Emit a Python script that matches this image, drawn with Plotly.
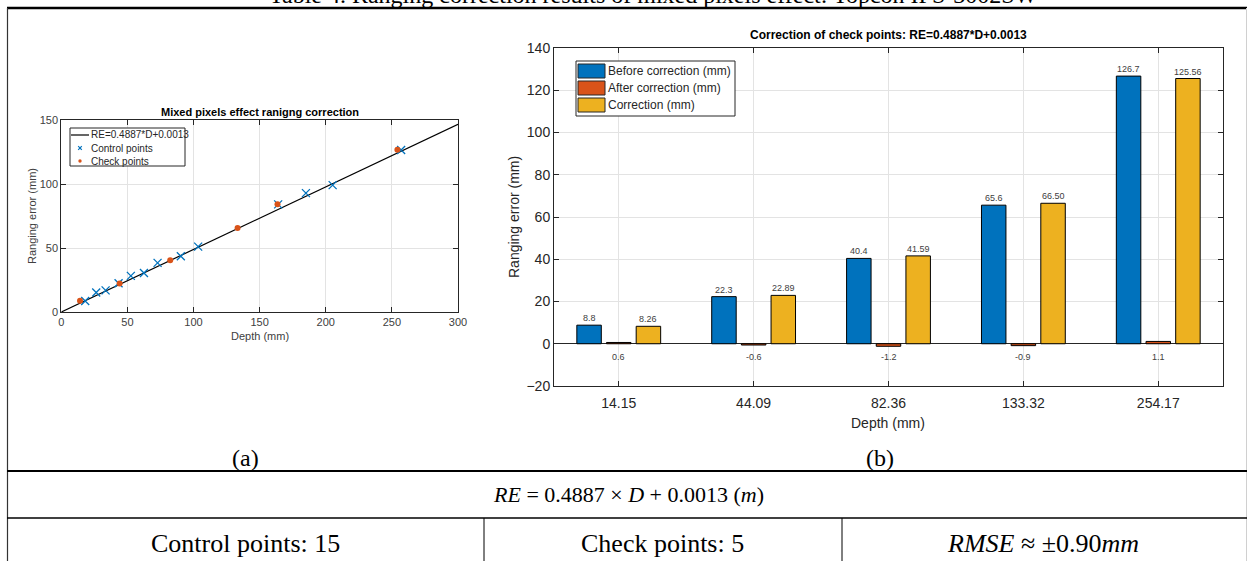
import plotly.graph_objects as go

W, H = 1247, 561

# ---------------- data ----------------
fit_slope = 0.4887
fit_intercept = 0.0013
fit_depth_range = [0, 300]

control_depth = [18.1, 26.4, 33.5, 43.3, 52.6, 62.5, 72.8, 90.4, 103.5, 164.0, 185.0, 205.2, 257.0]
control_err = [8.6, 15.3, 16.9, 22.4, 28.2, 30.5, 38.4, 43.6, 51.1, 84.1, 92.9, 99.1, 126.6]

check_depth = [14.15, 44.09, 82.36, 133.32, 163.5, 254.17]
check_err = [8.8, 22.3, 40.4, 65.6, 84.2, 126.7]

depth_labels = ["14.15", "44.09", "82.36", "133.32", "254.17"]
before_corr = [8.8, 22.3, 40.4, 65.6, 126.7]
after_corr = [0.6, -0.6, -1.2, -0.9, 1.1]
correction = [8.26, 22.89, 41.59, 66.50, 125.56]
before_txt = ["8.8", "22.3", "40.4", "65.6", "126.7"]
after_txt = ["0.6", "-0.6", "-1.2", "-0.9", "1.1"]
corr_txt = ["8.26", "22.89", "41.59", "66.50", "125.56"]

series_names = ["Before correction (mm)", "After correction (mm)", "Correction (mm)"]
series_colors = ["#0072BD", "#D95319", "#EDB120"]


def px(x):
    return x / W


def py(y):
    return 1 - y / H


SANS = "Liberation Sans, Arial, sans-serif"
SERIF = "Liberation Serif, Times New Roman, serif"
AX = "#262626"
GRID = "#e3e3e3"

fig = go.Figure()

# ---------------- chart (a) ----------------
fit_y = [fit_slope * d + fit_intercept for d in fit_depth_range]
fig.add_trace(go.Scatter(x=fit_depth_range, y=fit_y, mode="lines",
                         line=dict(color="black", width=1.2),
                         name="RE=0.4887*D+0.0013", showlegend=False,
                         xaxis="x", yaxis="y"))
fig.add_trace(go.Scatter(x=control_depth, y=control_err, mode="markers",
                         marker=dict(symbol="x-thin", size=8, line=dict(color="#0072BD", width=1.3)),
                         name="Control points", showlegend=False, xaxis="x", yaxis="y"))
fig.add_trace(go.Scatter(x=check_depth, y=check_err, mode="markers",
                         marker=dict(symbol="circle", size=6, color="#D95319"),
                         name="Check points", showlegend=False, xaxis="x", yaxis="y"))

# ---------------- chart (b) ----------------
x_pos = list(range(1, len(depth_labels) + 1))
for vals, name, col in zip([before_corr, after_corr, correction], series_names, series_colors):
    fig.add_trace(go.Bar(x=x_pos, y=vals, name=name, marker=dict(color=col, line=dict(color="black", width=1)),
                         showlegend=False, xaxis="x2", yaxis="y2"))

bargap = 0.34
slot = (1 - bargap) / 3

ann = []


def A(**kw):
    d = dict(showarrow=False, xanchor="center", yanchor="middle")
    d.update(kw)
    ann.append(d)


for i, xp in enumerate(x_pos):
    A(x=xp - slot, y=before_corr[i], xref="x2", yref="y2", text=before_txt[i], yanchor="bottom",
      font=dict(family=SANS, size=9, color="#404040"))
    A(x=xp + slot, y=correction[i], xref="x2", yref="y2", text=corr_txt[i], yanchor="bottom",
      font=dict(family=SANS, size=9, color="#404040"))
    A(x=xp, y=-6.2, xref="x2", yref="y2", text=after_txt[i],
      font=dict(family=SANS, size=9, color="#404040"))

# titles and axis labels
A(x=px(260), y=py(112), xref="paper", yref="paper", text="<b>Mixed pixels effect ranigng correction</b>",
  font=dict(family=SANS, size=11, color="black"))
A(x=px(32), y=py(216), xref="paper", yref="paper", text="Ranging error (mm)", textangle=-90,
  font=dict(family=SANS, size=11, color="#404040"))
A(x=px(260), y=py(336), xref="paper", yref="paper", text="Depth (mm)",
  font=dict(family=SANS, size=11, color="#404040"))
A(x=px(888), y=py(35), xref="paper", yref="paper",
  text="<b>Correction of check points: RE=0.4887*D+0.0013</b>",
  font=dict(family=SANS, size=12, color="black"))
A(x=px(514), y=py(217), xref="paper", yref="paper", text="Ranging error (mm)", textangle=-90,
  font=dict(family=SANS, size=14, color=AX))
A(x=px(888), y=py(423), xref="paper", yref="paper", text="Depth (mm)",
  font=dict(family=SANS, size=14, color=AX))

shapes = []

# legend (a) - manual
shapes.append(dict(type="rect", xref="paper", yref="paper", x0=px(70), x1=px(185), y0=py(128), y1=py(166),
                   line=dict(color=AX, width=1), fillcolor="white", layer="above"))
shapes.append(dict(type="line", xref="paper", yref="paper", x0=px(71), x1=px(89), y0=py(135), y1=py(135),
                   line=dict(color="black", width=1.2), layer="above"))
for dx, dy in [(1, 1), (1, -1)]:
    shapes.append(dict(type="line", xref="paper", yref="paper", x0=px(80 - 1.8 * dx), x1=px(80 + 1.8 * dx),
                       y0=py(148 - 1.8 * dy), y1=py(148 + 1.8 * dy),
                       line=dict(color="#0072BD", width=1.2), layer="above"))
shapes.append(dict(type="circle", xref="paper", yref="paper", x0=px(78.3), x1=px(81.7), y0=py(159.3), y1=py(162.7),
                   line=dict(color="#D95319", width=0), fillcolor="#D95319", layer="above"))
for txt, yy in zip(["RE=0.4887*D+0.0013", "Control points", "Check points"], [135, 148, 161]):
    A(x=px(89), y=py(yy), xref="paper", yref="paper", text=txt, xanchor="left",
      font=dict(family=SANS, size=10, color=AX))

# legend (b) - manual
shapes.append(dict(type="rect", xref="paper", yref="paper", x0=px(576), x1=px(735), y0=py(61), y1=py(116),
                   line=dict(color=AX, width=1), fillcolor="white", layer="above"))
for (y0, y1), col, txt in zip([(64, 78), (81, 95), (98, 112)], series_colors, series_names):
    shapes.append(dict(type="rect", xref="paper", yref="paper", x0=px(578), x1=px(605), y0=py(y0), y1=py(y1),
                       line=dict(color=AX, width=1), fillcolor=col, layer="above"))
    A(x=px(606), y=py((y0 + y1) / 2), xref="paper", yref="paper", text=txt, xanchor="left",
      font=dict(family=SANS, size=12, color=AX))


# ---------------- table ----------------
def hline(y, x0, x1, w, col="black"):
    shapes.append(dict(type="line", xref="paper", yref="paper", x0=px(x0), x1=px(x1), y0=py(y), y1=py(y),
                       line=dict(color=col, width=w), layer="above"))


def vline(x, y0, y1, w, col="black"):
    shapes.append(dict(type="line", xref="paper", yref="paper", x0=px(x), x1=px(x), y0=py(y0), y1=py(y1),
                       line=dict(color=col, width=w), layer="above"))


hline(8, 7, 1247, 2.5)
vline(7.5, 8, 561, 1.2, "#333333")
vline(1246.5, 8, 561, 1, "#d0d0d0")
hline(471, 7, 1247, 2)
hline(518, 7, 1247, 1.3)
vline(484, 518, 561, 1)
vline(842, 518, 561, 1)

A(x=px(653), y=py(10), xref="paper", yref="paper", yanchor="bottom",
  text="Table 4. Ranging correction results of mixed pixels effect: Topcon IPS-3002SW",
  font=dict(family=SERIF, size=24, color="black"))

NB = "\u00a0"
table_texts = [
    ("(a)", 245, 458, 24),
    ("(b)", 880, 458, 24),
    ("<i>RE</i> = 0.4887 × <i>D</i> + 0.0013 (<i>m</i>)", 628, 494, 22),
    ("Control points: 15", 245, 543, 26),
    ("Check points: 5", 662, 543, 26),
    (f"<i>RMSE</i>{NB}≈{NB}±0.90<i>mm</i>", 1043, 543, 26),
]
for txt, xx, yy, fs in table_texts:
    A(x=px(xx), y=py(yy), xref="paper", yref="paper", text=txt,
      font=dict(family=SERIF, size=fs, color="black"))

axis_common = dict(showline=True, linecolor=AX, linewidth=1, mirror="ticks", ticks="inside",
                   ticklen=5, tickcolor=AX, showgrid=True, gridcolor=GRID, zeroline=False)

fig.update_layout(
    width=W, height=H,
    margin=dict(l=0, r=0, t=0, b=0, autoexpand=False),
    paper_bgcolor="white", plot_bgcolor="white",
    showlegend=False,
    barmode="group", bargap=bargap, bargroupgap=0.175,
    xaxis=dict(domain=[px(61.3), px(458)], range=[0, 300], dtick=50, anchor="y",
               tickfont=dict(family=SANS, size=11, color="#404040"), **axis_common),
    yaxis=dict(domain=[py(312), py(120)], range=[0, 150], dtick=50, anchor="x",
               tickfont=dict(family=SANS, size=11, color="#404040"), **axis_common),
    xaxis2=dict(domain=[px(554), px(1223)], range=[0.52, 5.48], tickvals=x_pos, ticktext=depth_labels,
                anchor="y2", ticklabelstandoff=4,
                tickfont=dict(family=SANS, size=14, color=AX), **axis_common),
    yaxis2=dict(domain=[py(386), py(48)], range=[-20, 140], dtick=20, anchor="x2",
                tickfont=dict(family=SANS, size=14, color=AX), **axis_common),
    annotations=ann,
    shapes=shapes,
)
fig.update_yaxes(zeroline=True, zerolinecolor=AX, zerolinewidth=1, selector=dict(anchor="x2"))

fig.write_html("out.html", config={"displayModeBar": False},
               post_script="document.body.style.margin='0';document.body.style.overflow='hidden';")
